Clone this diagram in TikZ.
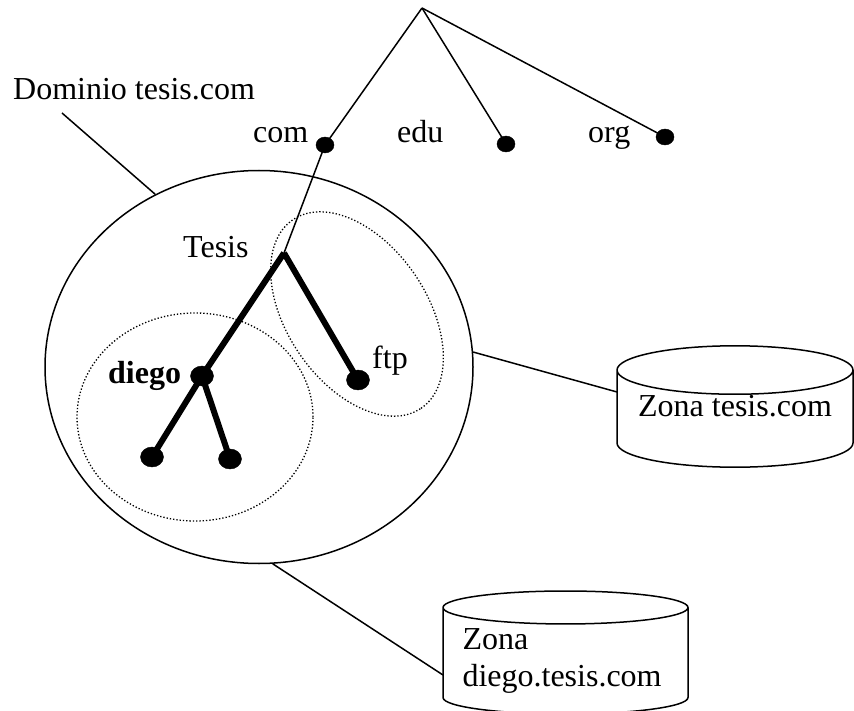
\documentclass[tikz,border=0pt]{standalone}
\usepackage{fontspec}
\setmainfont{Liberation Serif}
\usetikzlibrary{shapes.geometric}

\begin{document}
\begin{tikzpicture}[
    x=1pt, y=-1pt,
    font=\fontsize{32}{37}\selectfont,
    texto/.style={anchor=base west, inner sep=0pt},
    hoja/.style={draw, fill, ellipse, inner sep=0pt, minimum width=23pt, minimum height=20pt},
    tld/.style={hoja, minimum width=18pt, minimum height=16pt},
    fino/.style={line width=1.5pt},
    grueso/.style={line width=6pt},
    zona/.style={draw, ellipse, dotted, line width=1.3pt, inner sep=0pt},
    disco/.style={draw, cylinder, shape border rotate=90, aspect=0.25, line width=1.5pt,
        inner sep=0pt, anchor=shape center}
]
\useasboundingbox (0,0) rectangle (854,711);

% dominio y zonas
\node[draw, ellipse, fino, inner sep=0pt, minimum width=428pt, minimum height=393pt] (dominio) at (259,367) {};
\node[zona, minimum width=228pt, minimum height=140pt, rotate=-55.8] (zftp) at (357,314) {};
\node[zona, minimum width=236pt, minimum height=208pt] (zdiego) at (195,417) {};

% arbol
\coordinate (raiz) at (422,8);
\coordinate (tesis) at (284,253);
\node[tld] (com) at (325,145) {};
\node[tld] (edu) at (506,144) {};
\node[tld] (org) at (665,137) {};
\node[hoja] (diego) at (202,376) {};
\node[hoja] (ftp) at (358,380) {};
\node[hoja] (h1) at (152,457) {};
\node[hoja] (h2) at (230,459) {};

\draw[fino] (raiz) -- (com.center);
\draw[fino] (raiz) -- (edu.center);
\draw[fino] (raiz) -- (org.center);
\draw[fino] (com.center) -- (tesis);
\draw[grueso] (tesis) -- (diego.center);
\draw[grueso] (tesis) -- (ftp.center);
\draw[grueso] (diego.center) -- (h1.center);
\draw[grueso] (diego.center) -- (h2.center);

% etiquetas
\node[texto] (tdominio) at (13,100) {Dominio tesis.com};
\node[texto] (tcom) at (253,143) {com};
\node[texto] (tedu) at (397,143) {edu};
\node[texto] (torg) at (588,143) {org};
\node[texto] (ttesis) at (183,258) {Tesis};
\node[texto, font=\fontsize{32}{37}\selectfont\bfseries] (tdiego) at (108,383) {diego};
\node[texto] (tftp) at (372,368) {ftp};

% bases de datos
\node[disco, minimum width=236pt, minimum height=117pt, text height=22pt, text depth=26pt]
    (zona1) at (735,406.5) {Zona tesis.com};
\node[disco, aspect=0.16, minimum width=245pt, minimum height=123pt, text width=206pt, align=left]
    (zona2) at (565.5,652.5) {Zona\\diego.tesis.com};

\coordinate (dtxt) at (62,113);
\draw[fino] (dtxt) -- (dominio.121.4);
\draw[fino] (dominio.4.5) -- ([xshift=-118pt, yshift=14.5pt]zona1.shape center);
\draw[fino] (dominio.-86) -- ([xshift=-122.5pt, yshift=-22.5pt]zona2.shape center);
\end{tikzpicture}
\end{document}
